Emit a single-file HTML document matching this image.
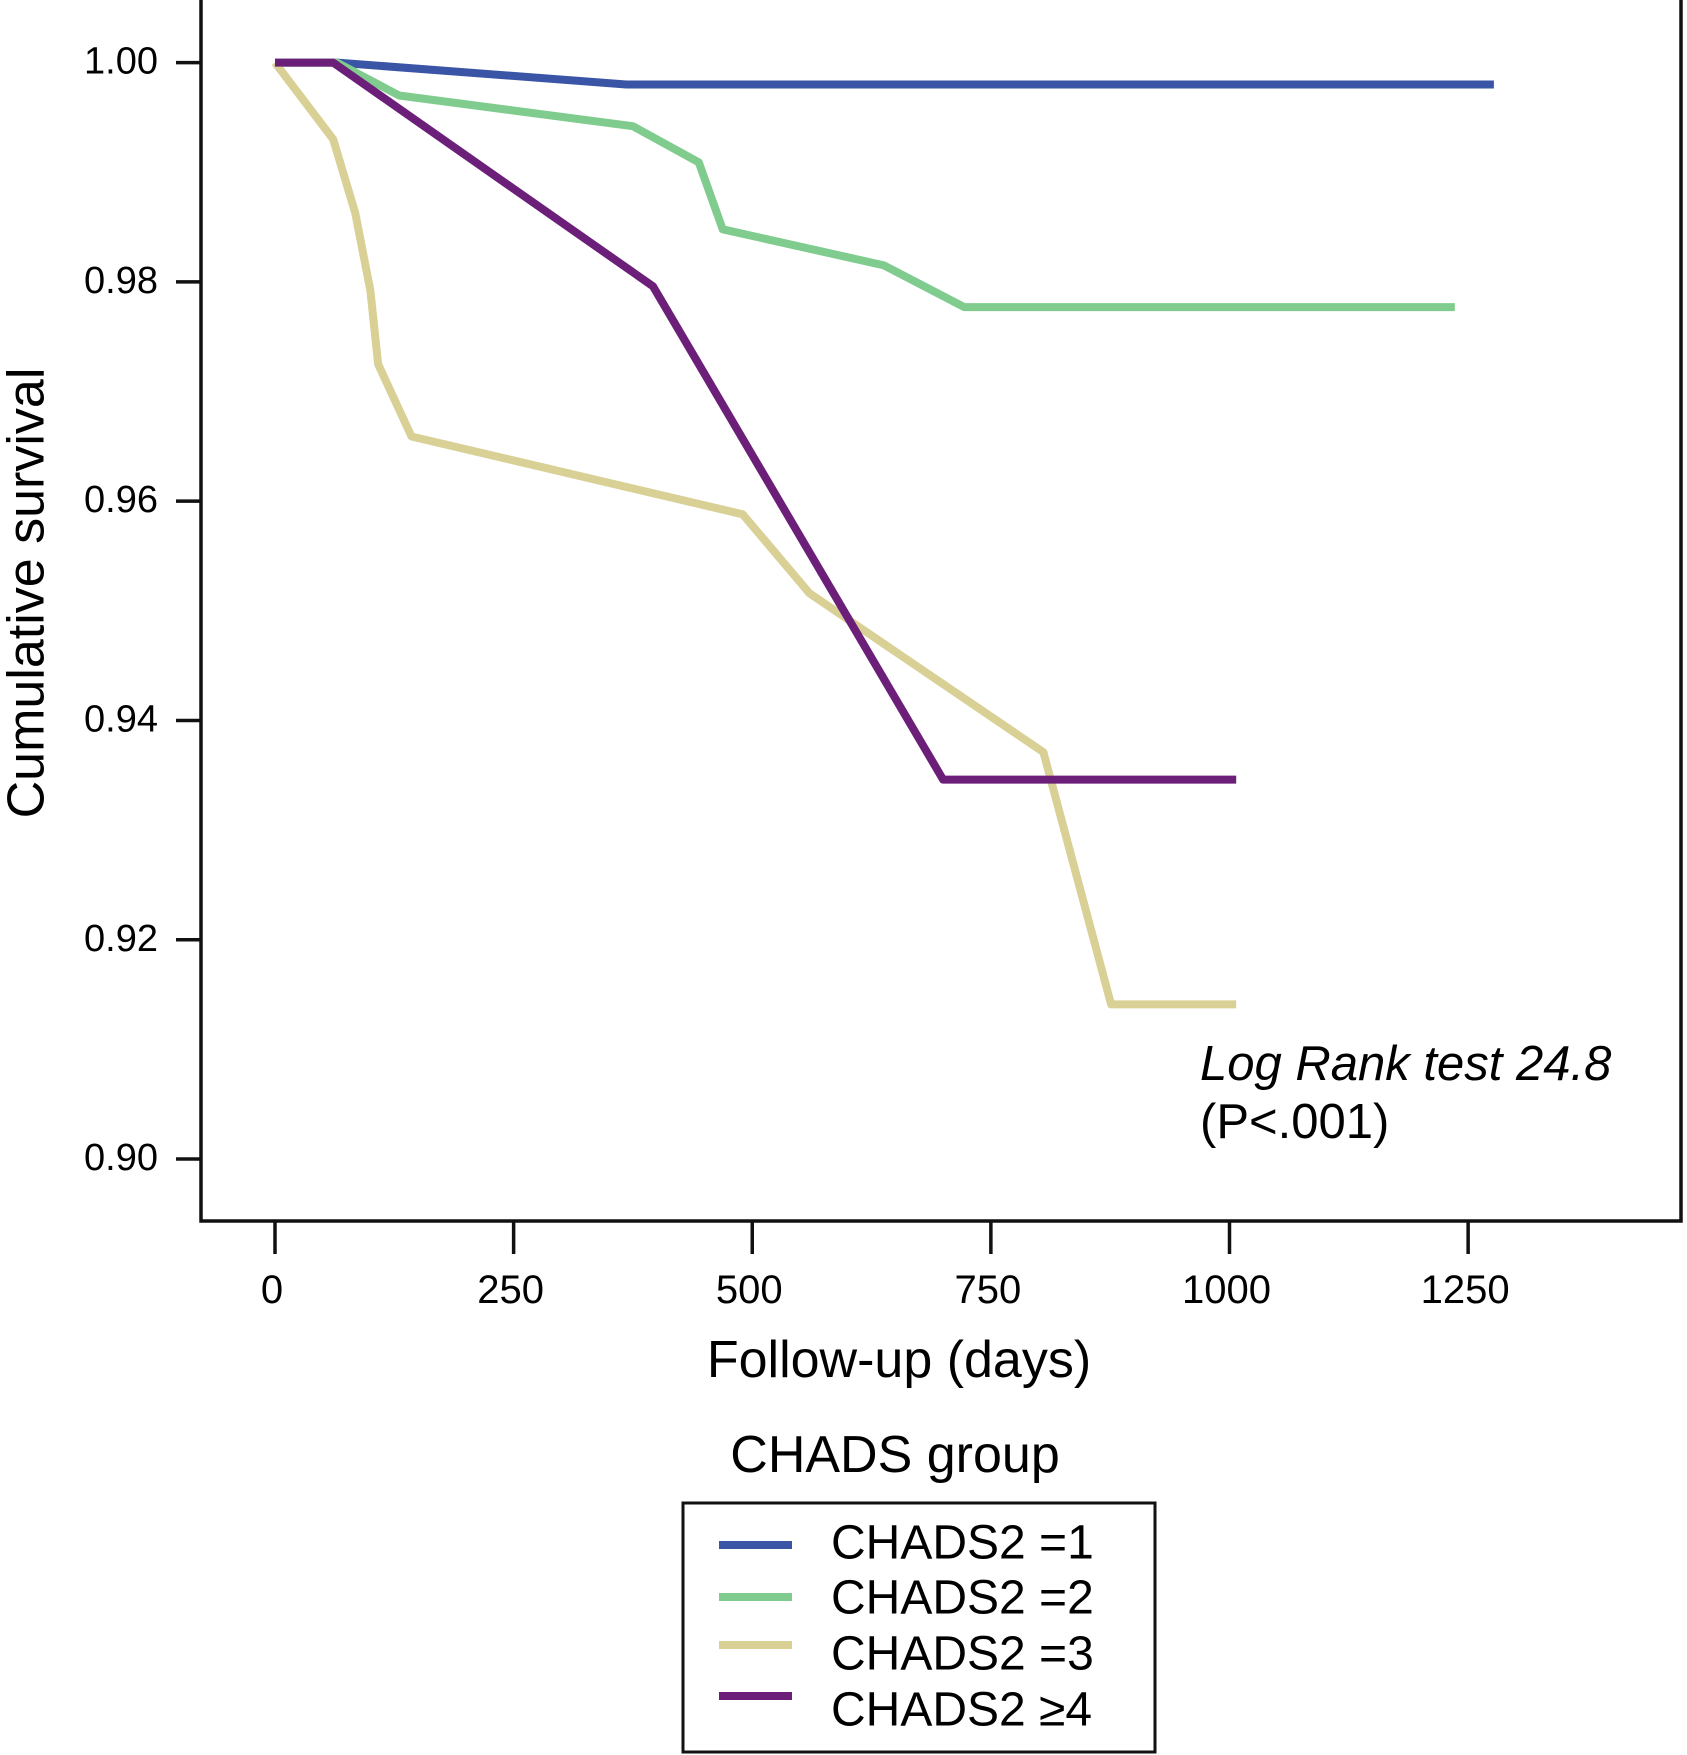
<!DOCTYPE html>
<html><head><meta charset="utf-8"><style>
html,body{margin:0;padding:0;background:#fff;}
svg{display:block;font-family:"Liberation Sans",Arial,sans-serif;}
</style></head><body>
<svg id="chart" width="1687" height="1755" viewBox="0 0 1687 1755">
<rect x="201" y="-2" width="1480" height="1223" fill="none" stroke="#111" stroke-width="3.5"/>
<g id="yaxis"></g>
<g id="xaxis"></g>
<g id="series"></g>
<text x="30" y="593" font-size="52" text-anchor="middle" dominant-baseline="middle" transform="rotate(-90 30 593)">Cumulative survival</text>
<text x="899" y="1377" font-size="52" text-anchor="middle">Follow-up (days)</text>
<text x="1200" y="1080" font-size="49" font-style="italic">Log Rank test 24.8</text>
<text x="1200" y="1138" font-size="49">(P&lt;.001)</text>
<text x="895" y="1472" font-size="52" text-anchor="middle">CHADS group</text>
<rect x="683" y="1503" width="472" height="249" fill="none" stroke="#111" stroke-width="3"/>
<g id="legend"></g>
</svg>
<script>
const yTicks=[1.00,0.98,0.96,0.94,0.92,0.90];
const yTickLabels=["1.00","0.98","0.96","0.94","0.92","0.90"];
const xTicks=[0,250,500,750,1000,1250];
const xTickLabels=["0","250","500","750","1000","1250"];
const seriesNames=["CHADS2 =1","CHADS2 =2","CHADS2 =3","CHADS2 \u22654"];
const seriesColors=["#3a55a6","#7fcc8e","#d9d096","#6b1f78"];
const days1=[0,65,368,1277];
const surv1=[1,1,0.998,0.998];
const days2=[0,65,130,375,444,469,638,722,1236];
const surv2=[1,1,0.997,0.9942,0.9909,0.9848,0.9815,0.9777,0.9777];
const days3=[0,61,84,100,108,143,490,560,805,876,1007];
const surv3=[1,0.993,0.9863,0.9792,0.9725,0.9659,0.9588,0.9516,0.9371,0.9141,0.9141];
const days4=[0,61,396,700,1007];
const surv4=[1,1,0.9796,0.9346,0.9346];
const NS="http://www.w3.org/2000/svg";
const X=d=>275+d*(954.5/1000);
const Y=s=>62.6+(1-s)*(1096.4/0.1);
function mk(t,a,p){const e=document.createElementNS(NS,t);for(const k in a)e.setAttribute(k,a[k]);p.appendChild(e);return e;}
const ya=document.getElementById('yaxis');
yTicks.forEach((v,i)=>{
 const l=mk('line',{x1:176,x2:201,y1:Y(v),y2:Y(v),stroke:'#111','stroke-width':3.5},ya);
 
 
 const t=mk('text',{x:158,y:Y(v)+1,'font-size':38,'text-anchor':'end','dominant-baseline':'middle'},ya);
 t.textContent=yTickLabels[i];
 
 
});
const xa=document.getElementById('xaxis');
xTicks.forEach((v,i)=>{
 const l=mk('line',{x1:X(v),x2:X(v),y1:1221,y2:1254,stroke:'#111','stroke-width':3.5},xa);
 
 
 const t=mk('text',{x:X(v)-3,y:1303,'font-size':40,'text-anchor':'middle'},xa);
 t.textContent=xTickLabels[i];
 
 
});
const sg=document.getElementById('series');
const allDays=[days1,days2,days3,days4], allSurv=[surv1,surv2,surv3,surv4];
[0,1,2,3].forEach(i=>{
 const pts=allDays[i].map((d,j)=>X(d).toFixed(1)+','+Y(allSurv[i][j]).toFixed(1)).join(' ');
 const p=mk('polyline',{points:pts,fill:'none',stroke:seriesColors[i],'stroke-width':8,'stroke-linejoin':'round'},sg);
 
 
});
const lg=document.getElementById('legend');
const ly=[1545,1597,1645,1696];
const ty=[1546,1601,1657,1713];
seriesNames.forEach((n,i)=>{
 const l=mk('line',{x1:719,x2:792,y1:ly[i],y2:ly[i],stroke:seriesColors[i],'stroke-width':8},lg);
 
 
 const t=mk('text',{x:831,y:ty[i],'font-size':48,'dominant-baseline':'middle'},lg);
 t.textContent=n;
 
 
});
</script>
</body></html>
